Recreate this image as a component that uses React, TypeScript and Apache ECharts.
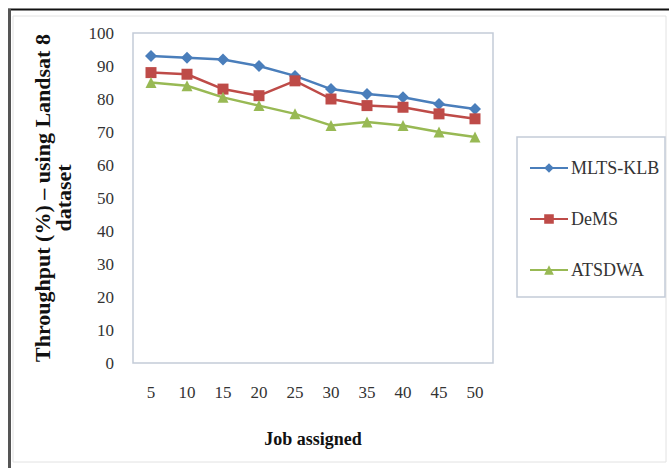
import React, { useEffect, useRef } from "react";
import * as echarts from "echarts";

const jobs = ["5", "10", "15", "20", "25", "30", "35", "40", "45", "50"];
const mltsKlb = [93, 92.5, 92, 90, 87, 83, 81.5, 80.5, 78.5, 77];
const dems = [88, 87.5, 83, 81, 85.5, 80, 78, 77.5, 75.5, 74];
const atsdwa = [85, 84, 80.5, 78, 75.5, 72, 73, 72, 70, 68.5];

const FONT = "Liberation Serif";

export default function App() {
  const ref = useRef<HTMLDivElement>(null);

  useEffect(() => {
    if (!ref.current) return;
    const chart = echarts.init(ref.current, null, { renderer: "svg" });

    const mk = (name: string, data: number[], color: string, symbol: string, size: number) => ({
      name,
      type: "line",
      data,
      symbol,
      symbolSize: size,
      lineStyle: { color, width: 2.5 },
      itemStyle: { color },
    });

    chart.setOption({
      animation: false,
      backgroundColor: "#ffffff",
      textStyle: { fontFamily: FONT },
      grid: {
        left: 133,
        top: 33,
        right: 176,
        bottom: 105,
        show: true,
        borderColor: "#c3cbd8",
        borderWidth: 1.5,
        backgroundColor: "#ffffff",
      },
      xAxis: {
        type: "category",
        data: jobs,
        boundaryGap: true,
        axisLine: { show: false },
        axisTick: { show: false },
        axisLabel: { fontFamily: FONT, fontSize: 17, color: "#333", margin: 21 },
        name: "Job assigned",
        nameLocation: "middle",
        nameGap: 67,
        nameTextStyle: { fontFamily: FONT, fontSize: 18, fontWeight: "bold", color: "#111" },
      },
      yAxis: {
        type: "value",
        min: 0,
        max: 100,
        interval: 10,
        axisLine: { show: false },
        axisTick: { show: false },
        splitLine: { show: false },
        axisLabel: { fontFamily: FONT, fontSize: 17, color: "#333", margin: 19 },
      },
      legend: {
        orient: "vertical",
        left: 524,
        top: 154,
        itemWidth: 38,
        itemHeight: 12,
        itemGap: 33,
        textStyle: { fontFamily: FONT, fontSize: 18, color: "#333", padding: [0, 0, 0, -2] },
        data: ["MLTS-KLB", "DeMS", "ATSDWA"],
      },
      graphic: [
        {
          type: "rect",
          shape: { x: 13, y: 16, width: 653, height: 446 },
          style: { fill: "none", stroke: "#e2e2e2", lineWidth: 1 },
          z: -1,
        },
        {
          type: "line",
          shape: { x1: 8, y1: 9.5, x2: 669, y2: 9.5 },
          style: { stroke: "#111", lineWidth: 2 },
        },
        {
          type: "line",
          shape: { x1: 9.5, y1: 9, x2: 9.5, y2: 468 },
          style: { stroke: "#555", lineWidth: 3 },
        },
        {
          type: "rect",
          shape: { x: 517, y: 137, width: 148, height: 160 },
          style: { fill: "none", stroke: "#c3cbd8", lineWidth: 1.5 },
        },
        {
          type: "text",
          x: 53,
          y: 198,
          rotation: Math.PI / 2,
          style: {
            text: "Throughput (%) – using Landsat 8\ndataset",
            font: `bold 22px ${FONT}`,
            fill: "#111",
            align: "center",
            verticalAlign: "middle",
            lineHeight: 21,
          },
        },
      ],
      series: [
        mk("MLTS-KLB", mltsKlb, "#4a7ebb", "diamond", 12),
        mk("DeMS", dems, "#be4b48", "rect", 11),
        mk("ATSDWA", atsdwa, "#98b954", "triangle", 11),
      ],
    });

    return () => chart.dispose();
  }, []);

  return (
    <div
      ref={ref}
      style={{ position: "fixed", left: 0, top: 0, width: 669, height: 468 }}
    />
  );
}
